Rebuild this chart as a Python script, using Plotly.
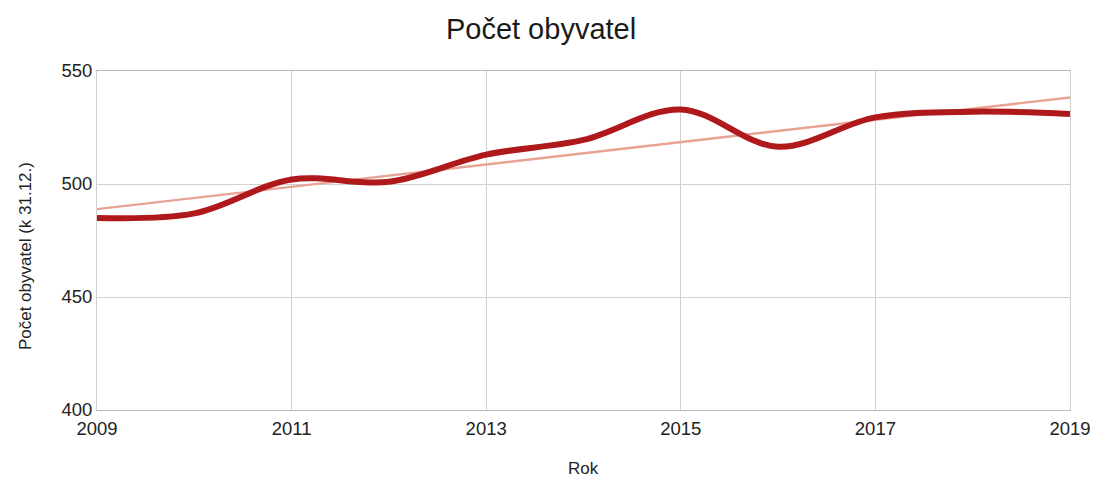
import numpy as np
import plotly.graph_objects as go

years = [2009, 2010, 2011, 2012, 2013, 2014, 2015, 2016, 2017, 2018, 2019]
population = [485, 487, 502, 501, 513, 519.5, 533, 516.5, 529.5, 532, 531]
x_ticks = [2009, 2011, 2013, 2015, 2017, 2019]
y_ticks = [400, 450, 500, 550]

slope, intercept = np.polyfit(years, population, 1)
trend = [slope * y + intercept for y in years]

fig = go.Figure()
fig.add_trace(go.Scatter(
    x=years, y=trend, mode="lines",
    line=dict(color="#E8A393", width=2.4),
    hoverinfo="skip", showlegend=False,
))
fig.add_trace(go.Scatter(
    x=years, y=population, mode="lines",
    line=dict(color="#B0191C", width=6, shape="spline", smoothing=1.0),
    showlegend=False,
))

font_family = "Liberation Sans, Arial, sans-serif"
fig.update_layout(
    width=1093, height=479,
    margin=dict(l=97, r=23, t=71, b=69),
    paper_bgcolor="white", plot_bgcolor="white",
    font=dict(family=font_family, color="#222222"),
    title=dict(text="Počet obyvatel", xref="container", x=0.495, xanchor="center",
               yref="container", y=0.939, yanchor="middle",
               font=dict(size=29, color="#1a1a1a", family=font_family)),
    xaxis=dict(
        range=[2009, 2019], tickvals=x_ticks, ticktext=[str(v) for v in x_ticks],
        showgrid=True, gridcolor="#D0D0D0", gridwidth=1,
        showline=True, linecolor="#BBBBBB", linewidth=1, mirror=True,
        ticks="", tickfont=dict(size=18.5, color="#222222"),
        ticklabelstandoff=2,
        zeroline=False, automargin=False,
    ),
    yaxis=dict(
        range=[400, 550], tickvals=y_ticks, ticktext=[str(v) for v in y_ticks],
        showgrid=True, gridcolor="#D0D0D0", gridwidth=1,
        showline=True, linecolor="#D0D0D0", linewidth=1, mirror=True,
        ticks="", tickfont=dict(size=18.5, color="#222222"),
        zeroline=False, automargin=False,
    ),
    annotations=[
        dict(text="Rok", xref="paper", yref="paper", x=0.5, y=-0.174,
             xanchor="center", yanchor="middle", showarrow=False,
             font=dict(size=17, color="#222222", family=font_family)),
        dict(text="Počet obyvatel (k 31.12.)", xref="paper", yref="paper",
             x=-0.074, y=0.454, xanchor="center", yanchor="middle", textangle=-90,
             showarrow=False, font=dict(size=17, color="#222222", family=font_family)),
    ],
)

fig.write_html(
    "out.html",
    config={"displayModeBar": False},
    post_script="document.body.style.margin='0';document.body.style.overflow='hidden';",
)
